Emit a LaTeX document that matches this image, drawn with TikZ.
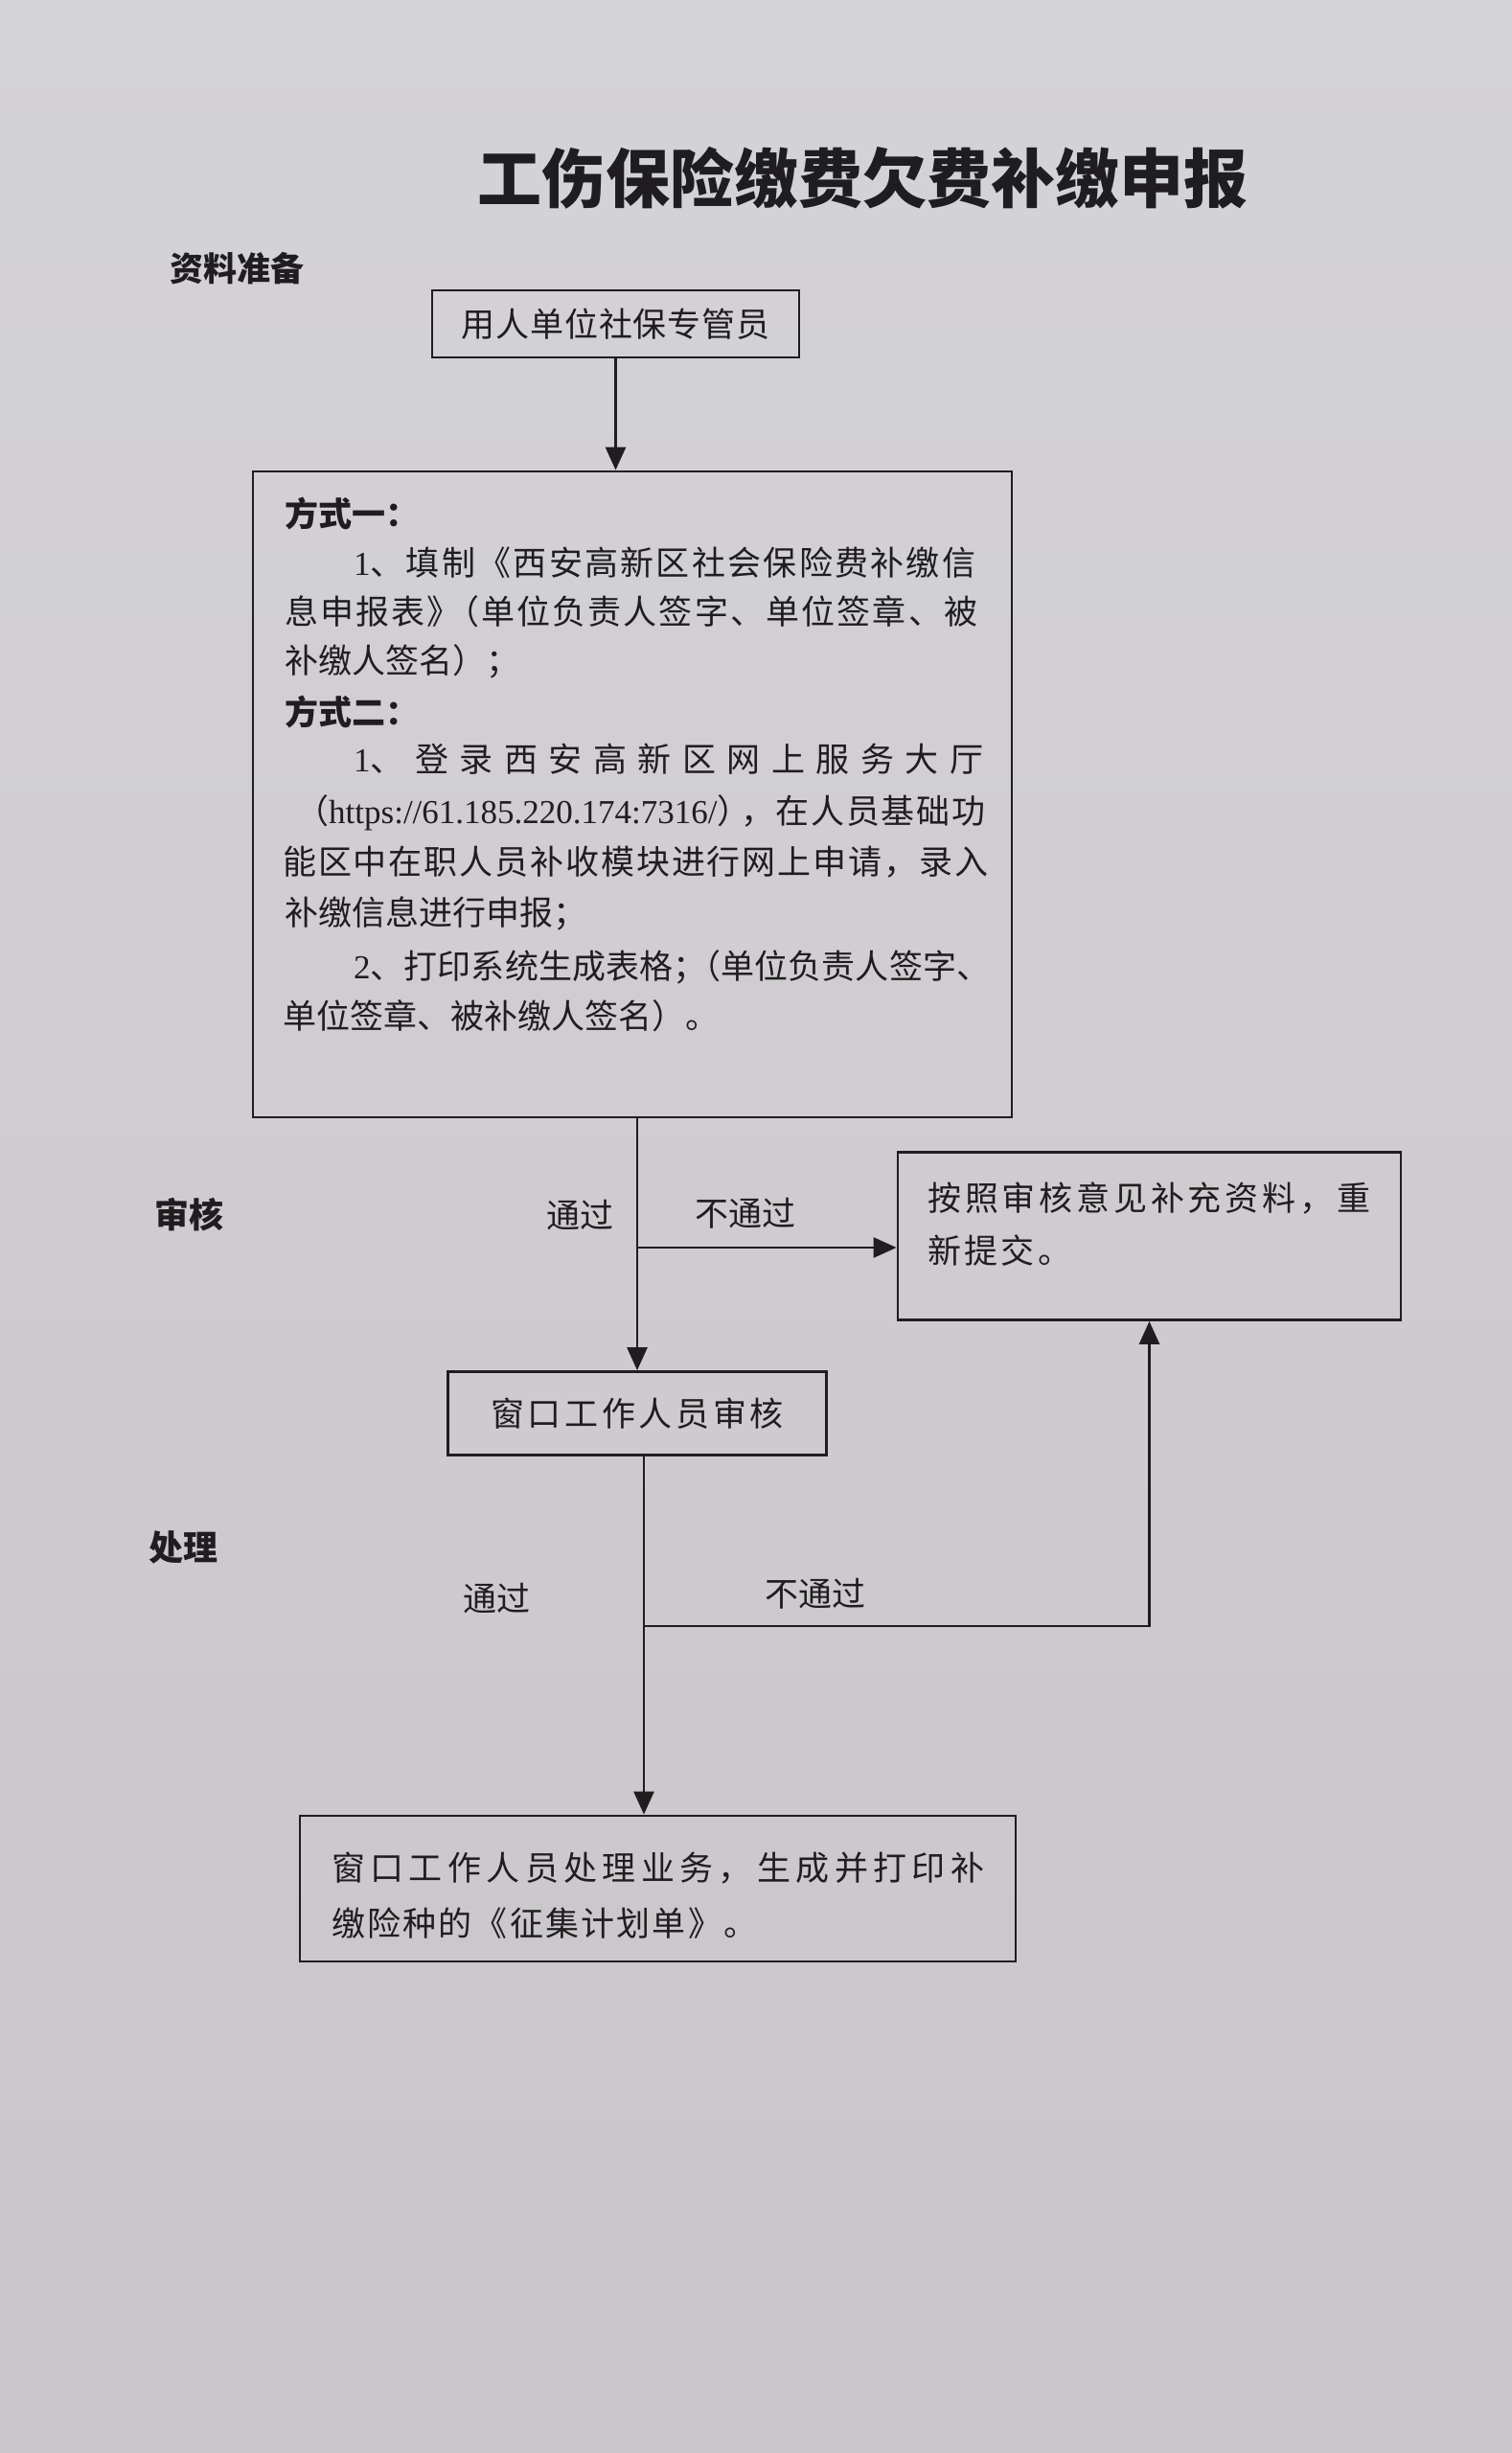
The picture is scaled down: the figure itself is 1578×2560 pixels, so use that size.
\documentclass[tikz,border=0pt]{standalone}
\usepackage{fontspec}
\setmainfont{Noto Sans CJK SC}
\newfontfamily\lat{Liberation Serif}
\usetikzlibrary{arrows.meta,calc}
\definecolor{paperA}{HTML}{D4D3D7}
\definecolor{paperB}{HTML}{C9C5C9}
\definecolor{ink}{HTML}{1F1D1F}
\def\spreadend{\spreadendmark}
\newcommand\spreadto[2]{\makebox[#1][s]{\spreadfirst#2\spreadend}}
\def\spreadfirst#1{#1\spreadnext}
\def\spreadnext#1{\ifx#1\spreadend\else\hfill#1\expandafter\spreadnext\fi}
\def\onech{{\lat 1}、}
\def\twoch{{\lat 2}、}
\def\nk{\kern-20pt\relax}
\begin{document}
\begin{tikzpicture}[x=1pt,y=-1pt,
  box/.style={draw=ink,line width=2.8pt,inner sep=0pt,rectangle,text=ink,font=\fontsize{35pt}{42pt}\selectfont},
  txt/.style={inner sep=0pt,anchor=west,text=ink,font=\fontsize{35pt}{42pt}\selectfont},
  txtb/.style={txt,font=\fontsize{35pt}{42pt}\selectfont\bfseries},
  lbl/.style={inner sep=0pt,text=ink,font=\fontsize{35pt}{42pt}\selectfont},
  sect/.style={inner sep=0pt,text=ink,font=\fontsize{36pt}{42pt}\selectfont\bfseries},
  arr/.style={draw=ink,line width=2.8pt,-{Triangle[length=24pt,width=21pt]}},
  ln/.style={draw=ink,line width=2.8pt}]
\shade[top color=paperA,bottom color=paperB] (0,0) rectangle (1578,2560);
\useasboundingbox (0,0) rectangle (1578,2560);

% title and section labels
\node[inner sep=0pt,text=ink,font=\fontsize{67pt}{72pt}\selectfont\bfseries] (title) at (900,186) {工伤保险缴费欠费补缴申报};
\node[sect,font=\fontsize{35pt}{42pt}\selectfont\bfseries] (s1) at (247,280) {资料准备};
\node[sect] (s2) at (197,1268) {审核};
\node[sect] (s3) at (191,1615) {处理};

% boxes
\node[box,minimum width=383pt,minimum height=70pt] (b1) at (642.5,338) {\spreadto{322pt}{用人单位社保专管员}};
\node[box,minimum width=792pt,minimum height=674pt] (b2) at (660,829) {};
\node[box,minimum width=395pt,minimum height=87pt] (b3) at (665,1475) {\spreadto{306pt}{窗口工作人员审核}};
\node[box,minimum width=525pt,minimum height=175pt] (b4) at (1199.5,1290) {};
\node[box,minimum width=747pt,minimum height=152pt] (b5) at (686.5,1971) {};

% text of box 2
\node[txtb] (m1) at (297,536) {方式一：};
\node[txt] (m1a) at (369,587) {\spreadto{649pt}{\onech 填制《西安高新区社会保险费补缴信}};
\node[txt] (m1b) at (297,638) {\spreadto{723pt}{息申报表》\nk（单位负责人签字、单位签章、被}};
\node[txt] (m1c) at (297,690) {补缴人签名）；};
\node[txtb] (m2) at (297,743) {方式二：};
\node[txt] (m2a) at (369,792) {\spreadto{657pt}{\onech 登录西安高新区网上服务大厅}};
\node[txt] (m2b) at (308,848) {\makebox[720pt][s]{（{\lat https://61.185.220.174:7316/}）\kern-12pt\relax\hfill，\hfill 在\hfill 人\hfill 员\hfill 基\hfill 础\hfill 功}};
\node[txt] (m2c) at (295,900) {\spreadto{736pt}{能区中在职人员补收模块进行网上申请，录入}};
\node[txt] (m2d) at (297,953) {补缴信息进行申报；};
\node[txt] (m2e) at (369,1009) {\spreadto{664pt}{\twoch 打印系统生成表格；\nk（单位负责人签字、}};
\node[txt] (m2f) at (295,1060) {单位签章、被补缴人签名）。};

% text of box 4
\node[txt] (b4l1) at (968,1250) {\spreadto{462pt}{按照审核意见补充资料，重}};
\node[txt] (b4l2) at (968,1305) {\spreadto{150pt}{新提交。}};

% text of box 5
\node[txt] (b5l1) at (346,1950) {\spreadto{681pt}{窗口工作人员处理业务，生成并打印补}};
\node[txt] (b5l2) at (346,2007) {\spreadto{444pt}{缴险种的《征集计划单》。}};

% connector labels
\node[lbl] (p1) at (605,1268) {通过};
\node[lbl] (f1) at (778,1266) {不通过};
\node[lbl] (p2) at (518,1668) {通过};
\node[lbl] (f2) at (851,1663) {不通过};

% connectors
\draw[arr] (b1.south) -- (b1.south |- b2.north);
\coordinate (j1) at (665,1302);
\draw[ln] (b2.south -| j1) -- (j1);
\draw[arr] (j1) -- (b3.north);
\draw[arr] (j1) -- (j1 -| b4.west);
\coordinate (j2) at (672,1697);
\draw[ln] (b3.south -| j2) -- (j2);
\draw[arr] (j2) -- (j2 |- b5.north);
\draw[arr] (j2) -- (j2 -| b4.south) -- (b4.south);
\end{tikzpicture}
\end{document}
